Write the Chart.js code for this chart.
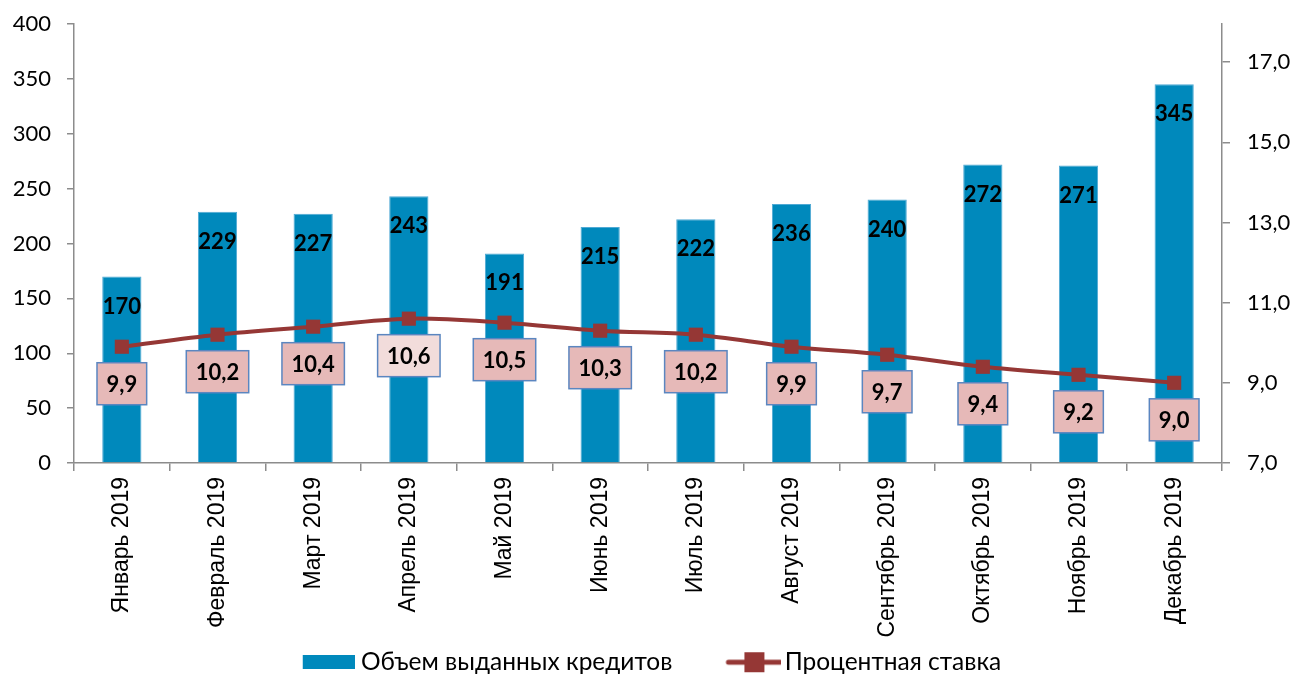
<!DOCTYPE html>
<html>
<head>
<meta charset="utf-8">
<script src="https://cdn.jsdelivr.net/npm/chart.js@4.4.1/dist/chart.umd.min.js"></script>
<style>
html,body{margin:0;padding:0;background:#fff;}
#wrap{width:1298px;height:675px;position:relative;}
</style>
</head>
<body>
<div id="wrap"><canvas id="c"></canvas></div>
<script>
const categories = ['Январь 2019','Февраль 2019','Март 2019','Апрель 2019','Май 2019','Июнь 2019','Июль 2019','Август 2019','Сентябрь 2019','Октябрь 2019','Ноябрь 2019','Декабрь 2019'];
const loans = [170, 229, 227, 243, 191, 215, 222, 236, 240, 272, 271, 345];
const rates = [9.9, 10.2, 10.4, 10.6, 10.5, 10.3, 10.2, 9.9, 9.7, 9.4, 9.2, 9.0];
const leftTicks = [0, 50, 100, 150, 200, 250, 300, 350, 400];
const rightTicks = [7, 9, 11, 13, 15, 17];
const rightMax = 17.95;
const seriesNames = ['Объем выданных кредитов', 'Процентная ставка'];

const BAR = '#0089BC';
const LINE = '#953735';
const AXIS = '#8C8C8C';
const fmt = v => v.toFixed(1).replace('.', ',');
const boxFill = i => (i === 3 ? '#F2DCDB' : '#E6B9B8');

function makeBarIcon() {
  const c = document.createElement('canvas');
  c.width = 64; c.height = 14;
  const x = c.getContext('2d');
  x.fillStyle = BAR; x.fillRect(12, 0, 52, 14);
  return c;
}
function makeLineIcon() {
  const c = document.createElement('canvas');
  c.width = 70; c.height = 22;
  const x = c.getContext('2d');
  x.strokeStyle = LINE; x.lineWidth = 5; x.lineCap = 'round';
  x.beginPath(); x.moveTo(17, 11); x.lineTo(69, 11); x.stroke();
  x.fillStyle = LINE; x.fillRect(33, 1, 20, 20);
  return c;
}
const barIcon = makeBarIcon();
const lineIcon = makeLineIcon();

const labelPlugin = {
  id: 'valueLabels',
  afterLayout(chart) {
    // let rotated category labels extend below the axis box (no clipping)
    chart.scales.x.bottom = chart.height;
  },
  afterDatasetsDraw(chart) {
    const ctx = chart.ctx;
    ctx.save();
    ctx.textAlign = 'center';
    ctx.textBaseline = 'middle';
    ctx.font = 'bold 22px Lato';
    ctx.fillStyle = '#000';
    const barMeta = chart.getDatasetMeta(0);
    barMeta.data.forEach((el, i) => {
      ctx.fillText(String(loans[i]), el.x, el.y + 30);
    });
    const lineMeta = chart.getDatasetMeta(1);
    lineMeta.data.forEach((el, i) => {
      const t = fmt(rates[i]);
      const w = ctx.measureText(t).width + 19;
      const h = 42;
      const cy = el.y + 37;
      ctx.fillStyle = boxFill(i);
      ctx.fillRect(el.x - w / 2, cy - h / 2, w, h);
      ctx.strokeStyle = '#5B86C0';
      ctx.lineWidth = 1.5;
      ctx.strokeRect(el.x - w / 2, cy - h / 2, w, h);
      ctx.fillStyle = '#000';
      ctx.fillText(t, el.x, cy + 1);
    });
    ctx.restore();
  }
};

new Chart(document.getElementById('c'), {
  type: 'bar',
  data: {
    labels: categories,
    datasets: [
      {
        type: 'bar', label: seriesNames[0], data: loans, yAxisID: 'y',
        backgroundColor: BAR, borderColor: '#4FA9D4', borderWidth: 1,
        barPercentage: 0.41, categoryPercentage: 1, order: 1
      },
      {
        type: 'line', label: seriesNames[1], data: rates, yAxisID: 'y1',
        borderColor: LINE, backgroundColor: LINE, borderWidth: 4,
        pointStyle: 'rect', pointRadius: 10, pointHoverRadius: 10,
        pointBackgroundColor: LINE, pointBorderColor: LINE, pointBorderWidth: 0,
        tension: 0.35, order: 0
      }
    ]
  },
  options: {
    responsive: true, maintainAspectRatio: false, animation: false,
    layout: {padding: {top: 24, left: 0, right: 0, bottom: 0}},
    plugins: {
      tooltip: {enabled: false},
      legend: {
        position: 'bottom',
        maxHeight: 73,
        labels: {
          usePointStyle: true, pointStyleWidth: 52, padding: 48,
          color: '#000', font: {family: 'Lato', size: 24.5},
          generateLabels: () => [
            {text: seriesNames[0], pointStyle: barIcon, datasetIndex: 0, fillStyle: BAR, strokeStyle: BAR, lineWidth: 0},
            {text: seriesNames[1], pointStyle: lineIcon, datasetIndex: 1, fillStyle: LINE, strokeStyle: LINE, lineWidth: 0}
          ]
        }
      }
    },
    scales: {
      x: {
        grid: {display: true, drawOnChartArea: false, drawTicks: true, tickLength: 8, color: AXIS, lineWidth: 1.5, offset: true},
        border: {display: true, color: AXIS, width: 1.5},
        ticks: {minRotation: 90, maxRotation: 90, autoSkip: false, padding: 6, color: '#000', font: {family: 'Liberation Sans', size: 23}},
        afterFit(s) {
          const lh = (s.chart.legend && s.chart.legend.height) ? s.chart.legend.height : 73;
          s.height = 675 - 463 - lh;
        }
      },
      y: {
        position: 'left', min: leftTicks[0], max: leftTicks[leftTicks.length - 1],
        grid: {display: true, drawOnChartArea: false, drawTicks: true, tickLength: 7, color: AXIS, lineWidth: 1.5},
        border: {display: true, color: AXIS, width: 1.5},
        ticks: {padding: 16, color: '#000', font: {family: 'Lato', size: 22}},
        afterBuildTicks(s) { s.ticks = leftTicks.map(v => ({value: v})); },
        afterFit(s) { s.width = 74; s.paddingTop = 12; s.paddingBottom = 12; }
      },
      y1: {
        position: 'right', min: rightTicks[0], max: rightMax,
        grid: {display: true, drawOnChartArea: false, drawTicks: true, tickLength: 8, color: AXIS, lineWidth: 1.5},
        border: {display: true, color: AXIS, width: 1.5},
        ticks: {padding: 17, color: '#000', font: {family: 'Lato', size: 22}, callback: v => fmt(v)},
        afterBuildTicks(s) { s.ticks = rightTicks.map(v => ({value: v})); },
        afterFit(s) { s.width = 76; s.paddingTop = 12; s.paddingBottom = 12; }
      }
    }
  },
  plugins: [labelPlugin]
});
</script>
</body>
</html>
